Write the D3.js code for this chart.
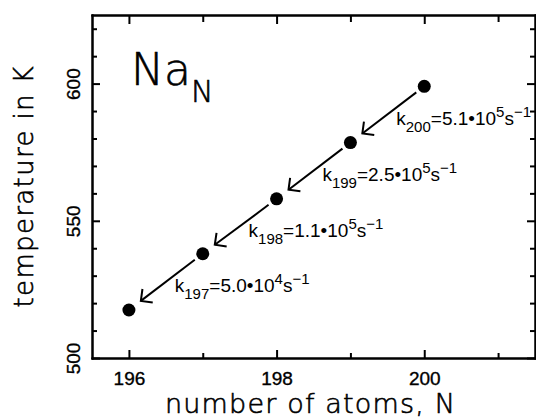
<!DOCTYPE html>
<html>
<head>
<meta charset="utf-8">
<script src="https://cdn.jsdelivr.net/npm/d3@7"></script>
<style>
  body { margin: 0; background: #fff; }
  .axis path, .axis line { stroke: #000; stroke-width: 2; }
  .axis text { font-family: "Liberation Sans", Arial, sans-serif; font-size: 19px; fill: #000; stroke: #000; stroke-width: 0.35; }
  .title { font-family: "DejaVu Sans", sans-serif; font-weight: 200; fill: #000; stroke: #000; stroke-width: 0.6; }
  .rate { font-family: "Liberation Sans", Arial, sans-serif; font-size: 19px; fill: #000; }
</style>
</head>
<body>
<div id="chart"></div>
<script>
const atoms = [196, 197, 198, 199, 200];
const temps = [517.5, 538, 558, 578.5, 599];
// rate constants k_N = mantissa * 10^exp s^-1 (for N = 197..200)
const rateN = [197, 198, 199, 200];
const rateMant = ["5.0", "1.1", "2.5", "5.1"];
const rateExp = ["4", "5", "5", "5"];

const xMajor = [196, 198, 200];
const xMinor = [197, 199, 201];
const yMajor = [500, 550, 600];
const yMinor = [510, 520, 530, 540, 560, 570, 580, 590, 610, 620];

const width = 536, height = 418;
const frameL = 92, frameR = 535, frameT = 15, frameB = 358;

const svg = d3.select("#chart").append("svg")
  .attr("width", width)
  .attr("height", height);

const x = d3.scaleLinear().domain([195.5, 201.5]).range([frameL, frameR]);
const y = d3.scaleLinear().domain([500, 625]).range([frameB, frameT]);

function addAxis(axis, transform) {
  return svg.append("g").attr("class", "axis").attr("transform", transform).call(axis);
}

// left axis: inward ticks, rotated labels
const leftG = addAxis(d3.axisLeft(y).tickValues(yMajor).tickSize(-8).tickSizeOuter(0).tickFormat(d3.format("d")),
  `translate(${frameL},0)`);
leftG.selectAll("text")
  .attr("x", null).attr("dy", null)
  .attr("text-anchor", "middle")
  .attr("transform", "translate(-12,0) rotate(-90)");
addAxis(d3.axisLeft(y).tickValues(yMinor).tickSize(-5).tickSizeOuter(0).tickFormat(""), `translate(${frameL},0)`);

// right axis
addAxis(d3.axisRight(y).tickValues(yMajor).tickSize(-8).tickSizeOuter(0).tickFormat(""), `translate(${frameR},0)`);
addAxis(d3.axisRight(y).tickValues(yMinor).tickSize(-5).tickSizeOuter(0).tickFormat(""), `translate(${frameR},0)`);

// bottom axis
const botG = addAxis(d3.axisBottom(x).tickValues(xMajor).tickSize(-8).tickSizeOuter(0).tickPadding(9)
  .tickFormat(d3.format("d")), `translate(0,${frameB})`);
botG.selectAll("text").attr("dy", "0.95em");
addAxis(d3.axisBottom(x).tickValues(xMinor).tickSize(-5).tickSizeOuter(0).tickFormat(""), `translate(0,${frameB})`);

// top axis
addAxis(d3.axisTop(x).tickValues(xMajor).tickSize(-9).tickSizeOuter(0).tickFormat(""), `translate(0,${frameT})`);
addAxis(d3.axisTop(x).tickValues(xMinor).tickSize(-7).tickSizeOuter(0).tickFormat(""), `translate(0,${frameT})`);

svg.selectAll(".axis .domain").attr("stroke-linecap", "square");

// arrows from N to N-1
const pts = atoms.map((n, i) => [x(n), y(temps[i])]);
const arrows = svg.append("g").attr("stroke", "#000").attr("stroke-width", 2).attr("fill", "none");
for (let i = pts.length - 1; i > 0; i--) {
  const [x0, y0] = pts[i], [x1, y1] = pts[i - 1];
  const dx = x1 - x0, dy = y1 - y0, len = Math.hypot(dx, dy);
  const ux = dx / len, uy = dy / len;
  const sx = x0 + ux * 10, sy = y0 + uy * 10;
  const tx = x1 - ux * 15, ty = y1 - uy * 15;
  arrows.append("line").attr("x1", sx).attr("y1", sy).attr("x2", tx).attr("y2", ty);
  const ang = Math.atan2(-uy, -ux), spread = Math.PI / 4, barb = 12;
  const p = d3.path();
  p.moveTo(tx + barb * Math.cos(ang + spread), ty + barb * Math.sin(ang + spread));
  p.lineTo(tx, ty);
  p.lineTo(tx + barb * Math.cos(ang - spread), ty + barb * Math.sin(ang - spread));
  arrows.append("path").attr("d", p.toString());
}

// dots
svg.append("g").selectAll("circle")
  .data(atoms)
  .join("circle")
  .attr("cx", d => x(d))
  .attr("cy", (d, i) => y(temps[i]))
  .attr("r", 6.5)
  .attr("fill", "#000");

// rate labels
rateN.forEach((n, i) => {
  const t = svg.append("text").attr("class", "rate")
    .attr("x", x(n) - 28)
    .attr("y", y(temps[atoms.indexOf(n)]) + 38.5);
  t.append("tspan").text("k");
  t.append("tspan").attr("font-size", 15).attr("dy", 7).text(n);
  t.append("tspan").attr("dy", -7).text("=" + rateMant[i] + "\u2022" + "10");
  t.append("tspan").attr("font-size", 15).attr("dy", -8).text(rateExp[i]);
  t.append("tspan").attr("dy", 8).text("s");
  t.append("tspan").attr("font-size", 15).attr("dy", -8).text("\u22121");
});

// Na_N
const na = svg.append("text").attr("class", "title").attr("x", 131).attr("y", 85).style("font-size", "44px");
na.append("tspan").text("Na");
na.append("tspan").attr("x", 191).attr("y", 102).style("font-size", "30px").text("N");

// axis titles
svg.append("text").attr("class", "title")
  .attr("x", 310).attr("y", 413)
  .attr("text-anchor", "middle")
  .attr("textLength", 290).attr("lengthAdjust", "spacing")
  .style("font-size", "27px")
  .text("number of atoms, N");

svg.append("text").attr("class", "title")
  .attr("transform", `translate(33,187) rotate(-90)`)
  .attr("text-anchor", "middle")
  .attr("textLength", 241).attr("lengthAdjust", "spacing")
  .style("font-size", "26px")
  .text("temperature in K");
</script>
</body>
</html>
